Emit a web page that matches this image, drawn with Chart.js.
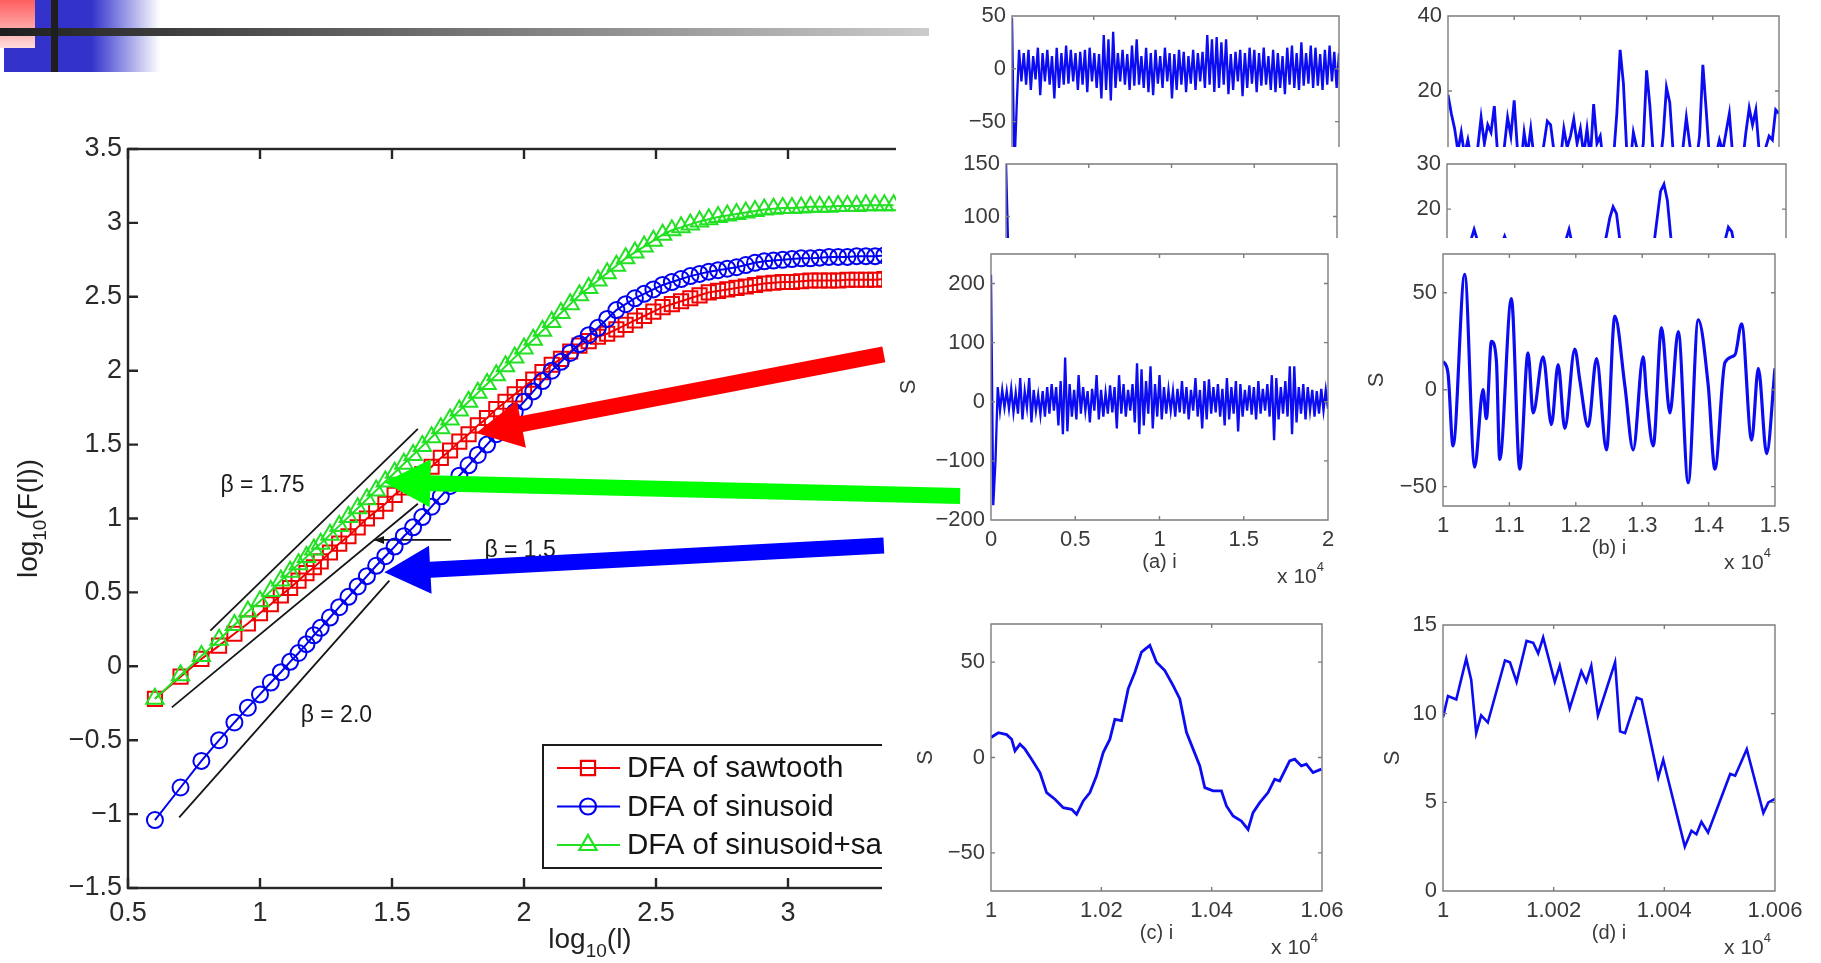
<!DOCTYPE html>
<html>
<head>
<meta charset="utf-8">
<script src="https://cdn.jsdelivr.net/npm/chart.js@4.4.1/dist/chart.umd.min.js"></script>
<style>
  html, body { margin: 0; padding: 0; background: #fff; }
  body { width: 1821px; height: 963px; position: relative; overflow: hidden; }
  canvas { position: absolute; }
  .cover { position: absolute; background: #fff; z-index: 2; }
</style>
</head>
<body>
<canvas id="dfa" width="1070" height="963" style="left:0;top:0;z-index:1"></canvas>
<div class="cover" style="left:896px;top:0;width:925px;height:240px"></div>
<div class="cover" style="left:882px;top:240px;width:939px;height:723px"></div>
<canvas id="pointers" width="1821" height="963" style="left:0;top:0;z-index:5"></canvas>

<!-- slide header ornament -->
<div style="position:absolute;left:4px;top:0;width:156px;height:72px;z-index:6;background:linear-gradient(to right,#3333cc 0%,#3333cc 56%,rgba(51,51,204,0) 100%)"></div>
<div style="position:absolute;left:0;top:0;width:35px;height:48px;z-index:7;background:linear-gradient(to bottom,#ff5e5e,#ffdcdc)"></div>
<div style="position:absolute;left:0;top:28px;width:929px;height:8px;z-index:8;background:linear-gradient(to right,#1e1e1e,#cbcbcb)"></div>
<div style="position:absolute;left:51px;top:0;width:7px;height:72px;z-index:8;background:#1e1e1e"></div>

<script>
// ---- DFA curves: log10(l) against log10(F(l)) ----
var logL = [0.602, 0.699, 0.778, 0.845, 0.903, 0.954, 1.0, 1.041, 1.079, 1.114, 1.146, 1.176, 1.204,
  1.23, 1.265, 1.3, 1.335, 1.37, 1.405, 1.44, 1.475, 1.51, 1.545, 1.58, 1.615, 1.65, 1.685, 1.72, 1.755,
  1.79, 1.825, 1.86, 1.895, 1.93, 1.965, 2.0, 2.035, 2.07, 2.105, 2.14, 2.175, 2.21, 2.245, 2.28, 2.315,
  2.35, 2.385, 2.42, 2.455, 2.49, 2.525, 2.56, 2.595, 2.63, 2.665, 2.7, 2.735, 2.77, 2.805, 2.84, 2.875,
  2.91, 2.945, 2.98, 3.015, 3.05, 3.085, 3.12, 3.155, 3.19, 3.225, 3.26, 3.295, 3.33, 3.365, 3.4];
var fSaw = [-0.22, -0.07, 0.05, 0.14, 0.22, 0.29, 0.36, 0.42, 0.48, 0.53, 0.58, 0.63, 0.67,
  0.71, 0.77, 0.83, 0.88, 0.94, 1.0, 1.05, 1.1, 1.16, 1.21, 1.25, 1.3, 1.35, 1.41, 1.46,
  1.52, 1.57, 1.63, 1.68, 1.74, 1.79, 1.84, 1.89, 1.94, 1.99, 2.04, 2.08, 2.13, 2.17, 2.2,
  2.23, 2.25, 2.28, 2.31, 2.34, 2.37, 2.4, 2.43, 2.45, 2.47, 2.49, 2.51, 2.53, 2.54, 2.55,
  2.56, 2.57, 2.58, 2.59, 2.595, 2.6, 2.6, 2.605, 2.61, 2.61, 2.61, 2.61, 2.615, 2.615, 2.615,
  2.615, 2.62, 2.62];
var fSin = [-1.04, -0.82, -0.64, -0.5, -0.38, -0.28, -0.19, -0.11, -0.04, 0.03, 0.09, 0.15, 0.21,
  0.26, 0.33, 0.4, 0.47, 0.54, 0.61, 0.68, 0.745, 0.81, 0.88, 0.94, 1.01, 1.08, 1.15, 1.22,
  1.29, 1.36, 1.43, 1.5, 1.57, 1.65, 1.72, 1.79, 1.86, 1.93, 2.0, 2.06, 2.12, 2.18, 2.24,
  2.29, 2.35, 2.41, 2.45, 2.49, 2.52, 2.55, 2.58, 2.6, 2.62, 2.64, 2.655, 2.67, 2.68, 2.69,
  2.7, 2.715, 2.73, 2.74, 2.745, 2.75, 2.755, 2.76, 2.76, 2.765, 2.77, 2.77, 2.77, 2.775, 2.775,
  2.775, 2.78, 2.78];
var fMix = [-0.22, -0.06, 0.07, 0.18, 0.28, 0.37, 0.44, 0.51, 0.58, 0.64, 0.69, 0.74, 0.79,
  0.83, 0.89, 0.95, 1.01, 1.07, 1.13, 1.19, 1.25, 1.31, 1.37, 1.43, 1.49, 1.55, 1.61, 1.67,
  1.73, 1.79, 1.85, 1.91, 1.97, 2.03, 2.09, 2.15, 2.21, 2.27, 2.33, 2.39, 2.45, 2.51, 2.56,
  2.61, 2.66, 2.71, 2.76, 2.8, 2.84, 2.88, 2.92, 2.95, 2.97, 2.99, 3.01, 3.025, 3.04, 3.05,
  3.06, 3.07, 3.08, 3.09, 3.095, 3.1, 3.1, 3.105, 3.11, 3.11, 3.11, 3.115, 3.115, 3.115, 3.12,
  3.12, 3.12, 3.12];
var seriesNames = ["DFA of sawtooth", "DFA of sinusoid", "DFA of sinusoid+sawtooth"];
var mainXTicks = [0.5, 1, 1.5, 2, 2.5, 3, 3.5, 4];
var mainYTicks = [-1.5, -1, -0.5, 0, 0.5, 1, 1.5, 2, 2.5, 3, 3.5];

// reference slopes drawn next to the curves (data coordinates)
var slopeNotes = [
  { text: "\u03b2 = 1.75", from: [0.812, 0.242], to: [1.598, 1.607], at: [0.85, 1.22] },
  { text: "\u03b2 = 1.5", from: [0.666, -0.278], to: [1.598, 1.1], at: [1.85, 0.78] },
  { text: "\u03b2 = 2.0", from: [0.694, -1.022], to: [1.49, 0.58], at: [1.154, -0.334] }
];
// thick arrows from the signal panels to the curves
var pointers = [
  { color: "#ff0000", tip: [1.819, 1.579], tail: [3.363, 2.11] },
  { color: "#00ff00", tip: [1.471, 1.246], tail: [3.652, 1.152] },
  { color: "#0000ff", tip: [1.471, 0.636], tail: [3.363, 0.817] }
];

// ---- signal panels ----
var ticksA = { x: [0, 0.5, 1, 1.5, 2], y: [-200, -100, 0, 100, 200] };
var sigA = [215, -175, -100, 25, -15, 20, -10, 18, -12, 22, -18, 15, -20, 40, -30, 18, -10, 40, -35, 20,
  -15, 12, -22, 18, -25, 25, -20, 30, -15, 25, -40, 35, -55, 75, -50, 30, -25, 20, -30, 45,
  -20, 25, -15, 18, -35, 22, -15, 45, -30, 20, -25, 15, -20, 28, -18, 25, -45, 45, -20, 30,
  -25, 20, -15, 30, -35, 65, -55, 55, -40, 35, -20, 60, -45, 30, -25, 45, -30, 25, -20, 20,
  -15, 18, -25, 22, -18, 35, -20, 25, -30, 20, -15, 40, -25, 20, -45, 35, -30, 38, -20, 25,
  -18, 30, -25, 22, -40, 40, -30, 25, -20, 35, -50, 30, -25, 20, -15, 28, -22, 25, -30, 35,
  -20, 22, -15, 30, -25, 45, -65, 40, -30, 25, -20, 35, -25, 60, -55, 60, -35, 25, -20, 30,
  -30, 25, -15, 20, -25, 18, -20, 22, -15, 20, -12];

var ticksB = { x: [1, 1.1, 1.2, 1.3, 1.4, 1.5], y: [-50, 0, 50] };
var bX = [1.0, 1.0075, 1.0151, 1.0327, 1.0477, 1.0603, 1.0653, 1.0729, 1.0804, 1.0854, 1.103, 1.1156,
  1.1281, 1.1357, 1.1508, 1.1633, 1.1734, 1.1834, 1.1985, 1.206, 1.2186, 1.2312, 1.2462, 1.2588,
  1.2739, 1.2864, 1.3015, 1.3065, 1.3166, 1.3291, 1.3417, 1.3543, 1.3693, 1.3844, 1.3995, 1.4095,
  1.4246, 1.4397, 1.4497, 1.4648, 1.4749, 1.4874, 1.5];
var sigB = [14.7, 8.6, -29, 59.5, -40, 0, -15, 25, 15, -36, 47, -41, 19, -12, 17, -18, 13, -20, 21, 5,
  -19, 16, -31, 38, 2, -31, 17, -3, -29, 32, -12, 30, -48, 36, 2, -41, 14, 18, 34, -26, 11, -33, 11];

var ticksC = { x: [1, 1.02, 1.04, 1.06], y: [-50, 0, 50] };
var cX = [1.0, 1.00133, 1.00284, 1.00374, 1.00435, 1.00525, 1.00616, 1.00736, 1.00887, 1.01008,
  1.01159, 1.0131, 1.01461, 1.01551, 1.01672, 1.01793, 1.01913, 1.02034, 1.02155, 1.02245,
  1.02366, 1.02487, 1.02608, 1.02728, 1.02879, 1.03, 1.03151, 1.03302, 1.03423, 1.03543,
  1.03664, 1.03785, 1.03875, 1.04026, 1.04177, 1.04268, 1.04388, 1.04539, 1.0466, 1.0475,
  1.04871, 1.05022, 1.05143, 1.05233, 1.05414, 1.05505, 1.05626, 1.05716, 1.05837, 1.05988];
var sigC = [10.5, 13, 12, 9.6, 3.5, 7, 4.4, -0.9, -7.9, -18.4, -21.9, -26.3, -27.2, -29.8, -22.8,
  -18.4, -9.6, 2.6, 9.6, 20, 19.3, 36, 44.7, 55.3, 58.8, 50, 45.6, 37.7, 30.7, 13.2, 4.4, -4.4,
  -15.8, -17.5, -17.5, -25.4, -30.7, -33.3, -37.7, -28.9, -23.7, -18.4, -11.4, -12.3, -1.8, -0.9,
  -4.4, -3.5, -7.9, -6.1];

var ticksD = { x: [1, 1.002, 1.004, 1.006], y: [0, 5, 10, 15] };
var dX = [1.0, 1.00009, 1.00024, 1.00042, 1.00051, 1.0006, 1.00069, 1.00081, 1.00112, 1.00121,
  1.00133, 1.00151, 1.00163, 1.00172, 1.00181, 1.00202, 1.00211, 1.00229, 1.0025, 1.00259,
  1.00268, 1.0028, 1.00311, 1.0032, 1.00329, 1.0035, 1.00359, 1.00389, 1.00398, 1.00437,
  1.00449, 1.00458, 1.00467, 1.00479, 1.00519, 1.00528, 1.00549, 1.00579, 1.00588, 1.006];
var sigD = [9.8, 11, 10.8, 13.1, 11.9, 8.9, 9.9, 9.5, 13, 12.9, 11.8, 14.1, 14, 13.4, 14.3, 11.8, 12.7,
  10.3, 12.4, 11.8, 12.7, 9.9, 12.9, 9, 8.9, 10.9, 10.8, 6.4, 7.4, 2.5, 3.4, 3.2, 3.9, 3.3, 6.6, 6.5,
  8, 4.4, 5, 5.2];

// partly hidden strips at the top
var ticksT1 = { x: [0, 0.5, 1, 1.5, 2], y: [-50, 0, 50] };
var sigT1 = [48, -95, -35, 18, -12, 15, -15, 18, -20, 12, -10, 20, -25, 15, -12, 18, -15, 12, -28, 20,
  -18, 15, -15, 22, -14, 18, -12, 15, -20, 16, -15, 18, -22, 20, -12, 15, -18, 14, -28, 32,
  -20, 28, -30, 35, -18, 15, -12, 18, -15, 14, -20, 22, -16, 28, -15, 12, -18, 20, -22, 15,
  -25, 18, -14, 12, -18, 20, -12, 15, -28, 14, -20, 18, -15, 16, -22, 12, -14, 18, -20, 15,
  -12, 16, -18, 32, -15, 28, -22, 30, -18, 25, -15, 28, -24, 14, -20, 16, -12, 18, -26, 15,
  -18, 20, -14, 18, -22, 15, -16, 20, -15, 12, -20, 18, -22, 15, -18, 12, -24, 20, -15, 22,
  -18, 15, -20, 25, -16, 15, -14, 22, -18, 20, -16, 14, -20, 18, -15, 22, -12, 16, -18, 15];
var ticksT2 = { x: [0, 0.5, 1, 1.5, 2], y: [100, 150] };
var sigT2 = [150, -60, -15, 12, -10, 18, -14, 10, -20, 15, -12, 20, -16, 12, -10, 15, -18, 14, -12, 10,
  -15, 18, -10, 12, -20, 15, -10, 18, -12, 10, -14, 16, -12, 20, -18, 12, -10, 15, -16, 14,
  -20, 18, -12, 10, -15, 16, -10, 12, -18, 15, -12, 20, -14, 10, -16, 18, -10, 14, -12, 10];
var ticksT3 = { x: [1, 1.1, 1.2, 1.3, 1.4, 1.5], y: [20, 40] };
var sigT3 = [19, 14, 10, 4, 9, 3, 7, 2, 0, 5, 13, 6, 11, 9, 16, 3, 0, 5, 13, 8,
  17.5, 4, 0, 9, 3, 10, 2, 0, 1, 6, 12, 11, 4, 0, 2, 10, 5, 8, 12.5, 6,
  10, 3, 10, 2, 16.5, 6, 8, 0, 0, 0, 2, 14, 31, 22, 4, 0, 9, 5, 0, 6,
  25.5, 16, 3, 0, 0, 8, 21, 17, 4, 0, 0, 5, 13, 6, 0, 1, 8, 27, 15, 2,
  0, 3, 7, 4, 9, 14, 3, 0, 0, 1, 9, 15.5, 11, 15, 4, 0, 5, 8, 7, 15, 14];
var ticksT4 = { x: [1, 1.1, 1.2, 1.3, 1.4, 1.5], y: [20, 30] };
var sigT4 = [6, 9, 7, 10, 8, 6, 9, 13, 15.5, 13, 8, 5, 9, 7, 10, 8, 12, 14, 12, 7,
  9, 6, 8, 10, 7, 9, 6, 10, 8, 7, 9, 11, 8, 6, 10, 13, 15.5, 12, 7, 9,
  8, 6, 10, 8, 9, 7, 11, 14, 18, 20.5, 19, 13, 8, 6, 9, 7, 10, 8, 11, 7,
  9, 12, 18, 24, 25.5, 22, 14, 8, 6, 10, 7, 9, 8, 6, 10, 9, 7, 11, 8, 6,
  9, 10, 13, 16, 15, 11, 7, 9, 6, 10, 8, 7, 9, 11, 8, 6, 10, 7, 9, 8, 7];

var FONT = '"Liberation Sans", Arial, Helvetica, sans-serif';
Chart.defaults.font.family = FONT;

function fmt(v) {
  return String(+v.toFixed(6)).replace("-", "\u2212");
}
function pairs(xs, ys) {
  return xs.map(function(x, i) { return { x: x, y: ys[i] }; });
}
function marker(ctx, style, x, y, r) {
  ctx.beginPath();
  if (style === "circle") {
    ctx.arc(x, y, r, 0, Math.PI * 2);
  } else if (style === "rect") {
    var s = r * Math.SQRT1_2;
    ctx.rect(x - s, y - s, 2 * s, 2 * s);
  } else {
    ctx.moveTo(x, y - r);
    ctx.lineTo(x + r * 0.866, y + r * 0.5);
    ctx.lineTo(x - r * 0.866, y + r * 0.5);
    ctx.closePath();
  }
  ctx.stroke();
}
// text with a subscript part: [before, sub, after]
function subLabel(ctx, parts, cx, base, big, small) {
  ctx.font = big + "px " + FONT;
  var w1 = ctx.measureText(parts[0]).width;
  var w3 = ctx.measureText(parts[2]).width;
  ctx.font = small + "px " + FONT;
  var w2 = ctx.measureText(parts[1]).width;
  var x = cx - (w1 + w2 + w3) / 2;
  ctx.textAlign = "left";
  ctx.textBaseline = "alphabetic";
  ctx.font = big + "px " + FONT;
  ctx.fillText(parts[0], x, base);
  ctx.font = small + "px " + FONT;
  ctx.fillText(parts[1], x + w1, base + small * 0.45);
  ctx.font = big + "px " + FONT;
  ctx.fillText(parts[2], x + w1 + w2, base);
}

var lineColors = { saw: "#f00000", sin: "#0000f0", mix: "#22e022" };

var dfaDecor = {
  id: "dfaDecor",
  beforeDatasetsDraw: function(chart) {
    var ctx = chart.ctx, xs = chart.scales.x, ys = chart.scales.y;
    ctx.save();
    ctx.strokeStyle = "#151515";
    ctx.lineWidth = 1.8;
    slopeNotes.forEach(function(n) {
      ctx.beginPath();
      ctx.moveTo(xs.getPixelForValue(n.from[0]), ys.getPixelForValue(n.from[1]));
      ctx.lineTo(xs.getPixelForValue(n.to[0]), ys.getPixelForValue(n.to[1]));
      ctx.stroke();
    });
    // small pointer under the beta = 1.5 note
    var ay = ys.getPixelForValue(0.855);
    var ax0 = xs.getPixelForValue(1.724), ax1 = xs.getPixelForValue(1.432);
    ctx.beginPath();
    ctx.moveTo(ax0, ay);
    ctx.lineTo(ax1, ay);
    ctx.stroke();
    ctx.fillStyle = "#151515";
    ctx.beginPath();
    ctx.moveTo(ax1, ay);
    ctx.lineTo(ax1 + 10, ay - 4);
    ctx.lineTo(ax1 + 10, ay + 4);
    ctx.closePath();
    ctx.fill();
    ctx.restore();
  },
  afterDraw: function(chart) {
    var ctx = chart.ctx, a = chart.chartArea, xs = chart.scales.x, ys = chart.scales.y;
    ctx.save();
    // frame and inward ticks
    ctx.strokeStyle = "#262626";
    ctx.lineWidth = 2.4;
    ctx.strokeRect(a.left, a.top, a.right - a.left, a.bottom - a.top);
    ctx.beginPath();
    mainXTicks.forEach(function(v) {
      var px = xs.getPixelForValue(v);
      ctx.moveTo(px, a.bottom); ctx.lineTo(px, a.bottom - 10);
      ctx.moveTo(px, a.top); ctx.lineTo(px, a.top + 10);
    });
    mainYTicks.forEach(function(v) {
      var py = ys.getPixelForValue(v);
      ctx.moveTo(a.left, py); ctx.lineTo(a.left + 10, py);
      ctx.moveTo(a.right, py); ctx.lineTo(a.right - 10, py);
    });
    ctx.stroke();

    // slope notes
    ctx.fillStyle = "#1a1a1a";
    ctx.font = "23px " + FONT;
    ctx.textAlign = "left";
    ctx.textBaseline = "middle";
    slopeNotes.forEach(function(n) {
      ctx.fillText(n.text, xs.getPixelForValue(n.at[0]), ys.getPixelForValue(n.at[1]));
    });

    // axis titles
    ctx.fillStyle = "#222";
    subLabel(ctx, ["log", "10", "(l)"], (a.left + a.right) / 2, a.bottom + 60, 28, 19);
    ctx.save();
    ctx.translate(a.left - 91, (a.top + a.bottom) / 2);
    ctx.rotate(-Math.PI / 2);
    subLabel(ctx, ["log", "10", "(F(l))"], 0, 0, 28, 19);
    ctx.restore();

    // legend
    var lx = a.left + 415, ly = a.bottom - 143;
    ctx.fillStyle = "#fff";
    ctx.fillRect(lx, ly, 470, 123);
    ctx.strokeStyle = "#1c1c1c";
    ctx.lineWidth = 2;
    ctx.strokeRect(lx, ly, 470, 123);
    var rows = [
      { name: seriesNames[0], color: lineColors.saw, style: "rect", r: 10 },
      { name: seriesNames[1], color: lineColors.sin, style: "circle", r: 8 },
      { name: seriesNames[2], color: lineColors.mix, style: "triangle", r: 10 }
    ];
    ctx.font = "29.5px " + FONT;
    ctx.textBaseline = "middle";
    rows.forEach(function(row, i) {
      var ry = ly + 23 + i * 38.5;
      ctx.strokeStyle = row.color;
      ctx.lineWidth = 2.2;
      ctx.beginPath();
      ctx.moveTo(lx + 14, ry);
      ctx.lineTo(lx + 77, ry);
      ctx.stroke();
      marker(ctx, row.style, lx + 45, ry, row.r);
      ctx.fillStyle = "#141414";
      ctx.fillText(row.name, lx + 84, ry + 1);
    });
    ctx.restore();
  }
};

function curve(name, ys, color, style, r) {
  return {
    label: name,
    data: pairs(logL, ys),
    showLine: true,
    borderColor: color,
    borderWidth: 2,
    backgroundColor: "rgba(0,0,0,0)",
    pointStyle: style,
    pointRadius: r,
    pointBorderWidth: 2,
    pointBorderColor: color,
    pointBackgroundColor: "rgba(0,0,0,0)"
  };
}

var dfaChart = new Chart(document.getElementById("dfa"), {
  type: "scatter",
  data: {
    datasets: [
      curve(seriesNames[2], fMix, lineColors.mix, "triangle", 10),
      curve(seriesNames[1], fSin, lineColors.sin, "circle", 8),
      curve(seriesNames[0], fSaw, lineColors.saw, "rect", 10)
    ]
  },
  options: {
    responsive: false,
    animation: false,
    devicePixelRatio: 1,
    events: [],
    layout: { padding: { top: 149, right: 18, left: 0, bottom: 0 } },
    scales: {
      x: {
        type: "linear", min: 0.5, max: 4,
        grid: { display: false, drawTicks: false },
        border: { display: false },
        afterBuildTicks: function(s) { s.ticks = mainXTicks.map(function(v) { return { value: v }; }); },
        afterFit: function(s) { s.height = 75; s.paddingLeft = 0; s.paddingRight = 0; },
        ticks: { autoSkip: false, maxRotation: 0, padding: 9, color: "#2a2a2a", font: { size: 27 }, callback: fmt }
      },
      y: {
        type: "linear", min: -1.5, max: 3.5,
        grid: { display: false, drawTicks: false },
        border: { display: false },
        afterBuildTicks: function(s) { s.ticks = mainYTicks.map(function(v) { return { value: v }; }); },
        afterFit: function(s) { s.width = 128; s.paddingTop = 0; s.paddingBottom = 0; },
        ticks: { autoSkip: false, padding: 6, color: "#2a2a2a", font: { size: 27 }, callback: fmt }
      }
    },
    plugins: { legend: { display: false }, tooltip: { enabled: false } }
  },
  plugins: [dfaDecor]
});

// thick arrows over everything
(function() {
  var ctx = document.getElementById("pointers").getContext("2d");
  var xs = dfaChart.scales.x, ys = dfaChart.scales.y;
  pointers.forEach(function(p) {
    var tip = [xs.getPixelForValue(p.tip[0]), ys.getPixelForValue(p.tip[1])];
    var tail = [xs.getPixelForValue(p.tail[0]), ys.getPixelForValue(p.tail[1])];
    var dx = tip[0] - tail[0], dy = tip[1] - tail[1], len = Math.hypot(dx, dy);
    var ux = dx / len, uy = dy / len, nx = -uy, ny = ux;
    var shaft = 8, headLen = 46, headHalf = 24;
    var bx = tip[0] - ux * headLen, by = tip[1] - uy * headLen;
    ctx.fillStyle = p.color;
    ctx.beginPath();
    ctx.moveTo(tail[0] + nx * shaft, tail[1] + ny * shaft);
    ctx.lineTo(bx + nx * shaft, by + ny * shaft);
    ctx.lineTo(bx + nx * headHalf, by + ny * headHalf);
    ctx.lineTo(tip[0], tip[1]);
    ctx.lineTo(bx - nx * headHalf, by - ny * headHalf);
    ctx.lineTo(bx - nx * shaft, by - ny * shaft);
    ctx.lineTo(tail[0] - nx * shaft, tail[1] - ny * shaft);
    ctx.closePath();
    ctx.fill();
  });
})();

// matlab-like boxed panels on the right
function panelDecor(p) {
  return {
    id: "panelDecor",
    afterDraw: function(chart) {
      var ctx = chart.ctx, a = chart.chartArea, xs = chart.scales.x, ys = chart.scales.y;
      ctx.save();
      ctx.strokeStyle = "#7c7c7c";
      ctx.lineWidth = 1.4;
      ctx.beginPath();
      if (p.cut) {
        ctx.moveTo(a.left, a.bottom); ctx.lineTo(a.left, a.top);
        ctx.lineTo(a.right, a.top); ctx.lineTo(a.right, a.bottom);
      } else {
        ctx.rect(a.left, a.top, a.right - a.left, a.bottom - a.top);
      }
      p.ticks.x.forEach(function(v) {
        var px = xs.getPixelForValue(v);
        if (px < a.left + 2 || px > a.right - 2) return;
        ctx.moveTo(px, a.top); ctx.lineTo(px, a.top + 4);
        if (!p.cut) { ctx.moveTo(px, a.bottom); ctx.lineTo(px, a.bottom - 4); }
      });
      p.ticks.y.forEach(function(v) {
        var py = ys.getPixelForValue(v);
        if (py < a.top + 2 || py > a.bottom - 2) return;
        ctx.moveTo(a.left, py); ctx.lineTo(a.left + 4, py);
        ctx.moveTo(a.right, py); ctx.lineTo(a.right - 4, py);
      });
      ctx.stroke();
      ctx.fillStyle = "#3a3a3a";
      if (!p.cut) {
        ctx.font = "20px " + FONT;
        ctx.textAlign = "center";
        ctx.textBaseline = "middle";
        ctx.fillText(p.xlab, (a.left + a.right) / 2, a.bottom + 42);
        ctx.textAlign = "right";
        ctx.textBaseline = "alphabetic";
        ctx.font = "13px " + FONT;
        var sw = ctx.measureText("4").width;
        ctx.fillText("4", a.right - 4, a.bottom + 51);
        ctx.font = "21px " + FONT;
        ctx.fillText("x 10", a.right - 4 - sw, a.bottom + 63);
      }
      if (p.sOff) {
        ctx.save();
        ctx.translate(a.left - p.sOff, (a.top + a.bottom) / 2);
        ctx.rotate(-Math.PI / 2);
        ctx.font = "22px " + FONT;
        ctx.textAlign = "center";
        ctx.textBaseline = "middle";
        ctx.fillText("S", 0, 0);
        ctx.restore();
      }
      ctx.restore();
    }
  };
}

function makePanel(p) {
  var L = p.box[0], T = p.box[1], R = p.box[2], B = p.box[3];
  var padL = 95, padT = 16, padR = 40, padB = p.cut ? 0 : 70;
  var cv = document.createElement("canvas");
  cv.width = padL + (R - L) + padR;
  cv.height = padT + (B - T) + padB;
  cv.style.left = (L - padL) + "px";
  cv.style.top = (T - padT) + "px";
  cv.style.zIndex = 3;
  document.body.appendChild(cv);
  var xv = p.xs || p.ys.map(function(_, i) {
    return p.xr[0] + i * (p.xr[1] - p.xr[0]) / (p.ys.length - 1);
  });
  return new Chart(cv, {
    type: "scatter",
    data: {
      datasets: [{
        data: pairs(xv, p.ys),
        showLine: true,
        borderColor: "#0c0cf2",
        borderWidth: p.lw || 1.6,
        pointRadius: 0,
        cubicInterpolationMode: p.smooth ? "monotone" : "default",
        tension: p.smooth ? 0.4 : 0
      }]
    },
    options: {
      responsive: false,
      animation: false,
      devicePixelRatio: 1,
      events: [],
      layout: { padding: { top: padT, right: padR, left: 0, bottom: 0 } },
      scales: {
        x: {
          type: "linear", min: p.xr[0], max: p.xr[1], display: !p.cut,
          grid: { display: false, drawTicks: false },
          border: { display: false },
          afterBuildTicks: function(s) { s.ticks = p.ticks.x.map(function(v) { return { value: v }; }); },
          afterFit: function(s) { s.height = padB; s.paddingLeft = 0; s.paddingRight = 0; },
          ticks: { autoSkip: false, maxRotation: 0, padding: 7, color: "#3a3a3a", font: { size: 22 }, callback: fmt }
        },
        y: {
          type: "linear", min: p.yr[0], max: p.yr[1],
          grid: { display: false, drawTicks: false },
          border: { display: false },
          afterBuildTicks: function(s) { s.ticks = p.ticks.y.map(function(v) { return { value: v }; }); },
          afterFit: function(s) { s.width = padL; s.paddingTop = 0; s.paddingBottom = 0; },
          ticks: { autoSkip: false, padding: 6, color: "#3a3a3a", font: { size: 22 }, callback: fmt }
        }
      },
      plugins: { legend: { display: false }, tooltip: { enabled: false } }
    },
    plugins: [panelDecor(p)]
  });
}

makePanel({ box: [1012, 16, 1339, 147], xr: [0, 2], yr: [-74, 50], ticks: ticksT1, ys: sigT1, cut: true, lw: 2.3 });
makePanel({ box: [1006, 164, 1337, 238], xr: [0, 2], yr: [79.5, 150], ticks: ticksT2, ys: sigT2, cut: true, lw: 2.4 });
makePanel({ box: [1448, 16, 1779, 147], xr: [1, 1.5], yr: [5.1, 40], ticks: ticksT3, ys: sigT3, cut: true, lw: 2.8 });
makePanel({ box: [1447, 164, 1786, 238], xr: [1, 1.5], yr: [13.6, 30], ticks: ticksT4, ys: sigT4, cut: true, lw: 2.8 });
makePanel({ box: [991, 254, 1328, 520], xr: [0, 2], yr: [-200, 250], ticks: ticksA, ys: sigA, xlab: "(a) i", sOff: 82, lw: 2.3 });
makePanel({ box: [1443, 254, 1775, 506], xr: [1, 1.5], yr: [-60, 70], ticks: ticksB, xs: bX, ys: sigB, xlab: "(b) i", sOff: 66, lw: 3.2, smooth: true });
makePanel({ box: [991, 624, 1322, 891], xr: [1, 1.06], yr: [-70, 70], ticks: ticksC, xs: cX, ys: sigC, xlab: "(c) i", sOff: 65, lw: 2.8 });
makePanel({ box: [1443, 625, 1775, 891], xr: [1, 1.006], yr: [0, 15], ticks: ticksD, xs: dX, ys: sigD, xlab: "(d) i", sOff: 50, lw: 2.6 });
</script>
</body>
</html>
